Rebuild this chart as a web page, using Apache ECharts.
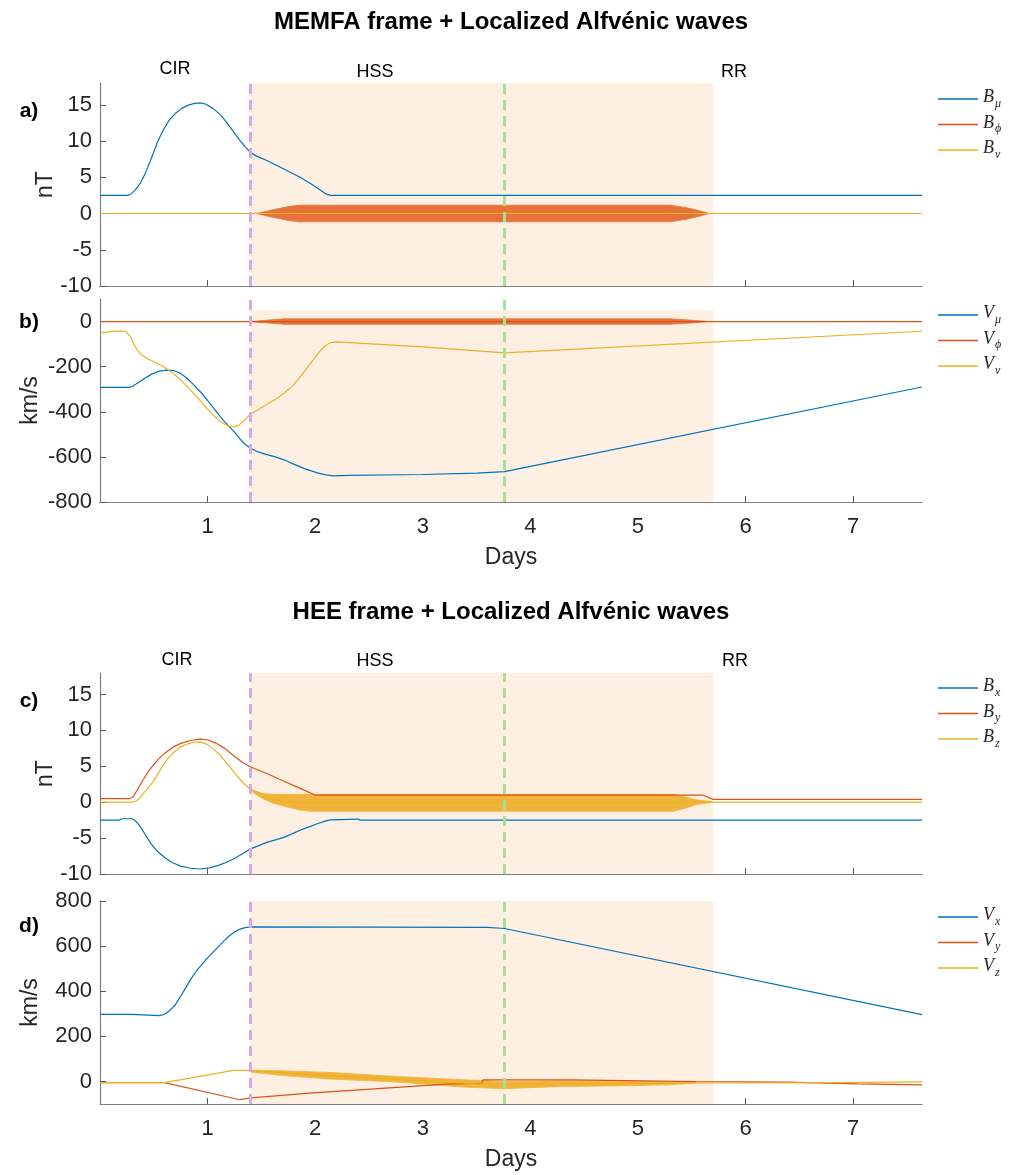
<!DOCTYPE html>
<html>
<head>
<meta charset="utf-8">
<script src="https://cdn.jsdelivr.net/npm/echarts@6/dist/echarts.min.js"></script>
<style>
  html, body { margin: 0; padding: 0; background: #fff; }
  #chart { width: 1017px; height: 1175px; }
</style>
</head>
<body>
<div id="chart"></div>
<script>
// ---- data (days, value) ----
const dayTicks = [1, 2, 3, 4, 5, 6, 7];
const nTTicks = [-10, -5, 0, 5, 10, 15];
const kmsTicksB = [-800, -600, -400, -200, 0];
const kmsTicksD = [0, 200, 400, 600, 800];

// a) MEMFA magnetic field
const bMu = [[0,2.5],[0.26,2.5],[0.29,2.7],[0.33,3.3],[0.375,4.2],[0.42,5.5],[0.47,7.3],[0.53,9.7],[0.58,11.3],[0.64,12.8],[0.7,13.8],[0.76,14.5],[0.82,14.95],[0.88,15.2],[0.93,15.25],[0.98,15.1],[1.05,14.5],[1.12,13.6],[1.18,12.5],[1.24,11.3],[1.3,10.1],[1.35,9.2],[1.4,8.4],[1.45,7.95],[1.55,7.3],[1.7,6.2],[1.86,5.0],[1.96,4.1],[2.05,3.2],[2.1,2.7],[2.14,2.5],[7.64,2.5]];
const bPhi = [[0,0],[7.64,0]];
const bNu = [[0,0],[7.64,0]];
const bPhiWaveX = [1.42, 1.47, 1.6, 1.75, 1.85, 5.3, 5.45, 5.58, 5.66];
const bPhiWaveHi = [0, 0.05, 0.5, 0.95, 1.15, 1.15, 0.8, 0.35, 0];
const bPhiWaveLo = [0, -0.05, -0.5, -0.95, -1.15, -1.15, -0.8, -0.35, 0];

// b) MEMFA velocity
const vMu = [[0,-292],[0.27,-292],[0.3,-288],[0.35,-272],[0.42,-250],[0.48,-233],[0.55,-220],[0.62,-215],[0.68,-217],[0.74,-227],[0.8,-248],[0.86,-275],[0.93,-310],[1.0,-350],[1.07,-393],[1.15,-440],[1.2,-465],[1.25,-490],[1.3,-520],[1.35,-545],[1.4,-562],[1.47,-578],[1.55,-590],[1.63,-600],[1.71,-613],[1.8,-632],[1.9,-652],[2.02,-671],[2.1,-680],[2.17,-684],[2.3,-682],[3.0,-678],[3.5,-672],[3.76,-665],[7.64,-290]];
const vPhi = [[0,0],[7.64,0]];
const vNu = [[0,-50],[0.1,-45],[0.2,-41],[0.24,-45],[0.28,-65],[0.31,-95],[0.34,-122],[0.38,-145],[0.43,-162],[0.5,-178],[0.58,-197],[0.66,-222],[0.73,-250],[0.8,-283],[0.87,-318],[0.93,-350],[1.0,-388],[1.06,-418],[1.12,-445],[1.18,-460],[1.24,-467],[1.29,-460],[1.34,-438],[1.4,-410],[1.48,-388],[1.55,-368],[1.63,-345],[1.71,-318],[1.79,-285],[1.87,-240],[1.95,-190],[2.03,-140],[2.09,-108],[2.14,-94],[2.2,-90],[3.0,-112],[3.76,-139],[7.64,-43]];
const vPhiWaveX = [1.4, 1.5, 1.6, 1.72, 5.3, 5.5, 5.65];
const vPhiWaveHi = [0, 4, 8, 12, 12, 6, 0];
const vPhiWaveLo = [0, -4, -8, -12, -12, -6, 0];

// c) HEE magnetic field
const bX = [[0,-2.5],[0.18,-2.5],[0.2,-2.3],[0.3,-2.3],[0.33,-2.6],[0.37,-3.3],[0.42,-4.5],[0.47,-5.7],[0.53,-6.8],[0.6,-7.7],[0.67,-8.4],[0.75,-8.9],[0.84,-9.2],[0.93,-9.3],[1.02,-9.15],[1.1,-8.8],[1.17,-8.4],[1.24,-7.9],[1.32,-7.2],[1.4,-6.5],[1.55,-5.6],[1.71,-4.9],[1.86,-3.9],[1.95,-3.4],[2.02,-3.0],[2.1,-2.6],[2.14,-2.45],[2.4,-2.35],[2.42,-2.5],[7.64,-2.5]];
const bY = [[0,0.5],[0.28,0.5],[0.31,0.8],[0.35,1.8],[0.4,3.1],[0.46,4.5],[0.53,5.8],[0.6,6.8],[0.67,7.6],[0.75,8.2],[0.84,8.6],[0.93,8.8],[1.0,8.7],[1.08,8.2],[1.16,7.5],[1.24,6.5],[1.32,5.6],[1.4,4.9],[1.55,4.0],[1.7,3.0],[1.85,2.0],[2.0,1.0],[5.6,1.0],[5.7,0.4],[7.64,0.4]];
const bZ = [[0,0],[0.3,0],[0.34,0.2],[0.375,0.7],[0.43,1.7],[0.5,3.0],[0.56,4.5],[0.62,5.9],[0.68,6.9],[0.74,7.6],[0.81,8.1],[0.87,8.35],[0.93,8.4],[0.99,8.1],[1.05,7.5],[1.12,6.5],[1.18,5.4],[1.24,4.3],[1.3,3.2],[1.35,2.4],[1.4,1.8],[1.5,1.2],[1.6,0.5],[1.75,0],[5.7,0],[7.64,0]];
const bZWaveX = [1.42, 1.5, 1.61, 1.75, 1.86, 1.95, 5.33, 5.45, 5.55, 5.68];
const bZWaveHi = [1.6, 1.2, 1.1, 1.1, 1.1, 1.1, 1.1, 0.7, 0.3, 0.1];
const bZWaveLo = [1.4, 0.6, -0.15, -0.7, -1.1, -1.25, -1.25, -0.8, -0.3, -0.05];

// d) HEE velocity
const vX = [[0,297],[0.3,297],[0.31,292],[0.55,292],[0.6,298],[0.65,315],[0.7,340],[0.75,378],[0.8,418],[0.85,458],[0.9,492],[0.95,520],[1.0,548],[1.05,572],[1.1,598],[1.15,622],[1.2,645],[1.25,663],[1.3,675],[1.35,682],[1.4,685],[2.5,684],[3.6,683],[3.76,678],[7.64,296]];
const vY = [[0,-5],[0.6,-5],[1.3,-81],[1.4,-73],[1.98,-51],[2.76,-26],[3.22,-12],[3.55,-8],[3.56,7],[4.37,7],[4.38,3],[5.54,-1],[6.38,-3],[6.39,-11],[7.04,-11],[7.05,-15],[7.64,-15]];
const vZ = [[0,-5],[0.6,-5],[1.24,49],[1.4,49],[1.5,45],[2.14,25],[2.76,9],[3.38,-8],[3.75,-16],[4.3,-10],[4.92,-9],[5.33,-9],[5.54,-7],[6.0,-7],[6.01,-5],[6.87,-5],[6.88,-2],[7.64,-2]];
const vZWaveX = [1.4, 1.7, 2.14, 2.76, 3.38, 3.75, 4.3, 4.92, 5.33, 5.54];
const vZWaveHi = [50, 47, 40, 22, 7.5, 0, 3, 0, -4, -7];
const vZWaveLo = [42, 26, 10.6, -3, -25, -32, -22, -19, -14, -7];

// region boundaries (days)
const cirEnd = 1.4, hssMid = 3.76, hssEnd = 5.7;

const BLUE = '#0072BD', RED = '#D95319', YEL = '#EDB120';
const BAND_RED = '#E6733A', BAND_YEL = '#F0B43C';
const SHADE = '#FDEFE2';
const FONT = 'Liberation Sans, Arial, sans-serif';
const TXT = '#262626';

const chart = echarts.init(document.getElementById('chart'));

function line(name, data, color, idx) {
    return {
        name: name, type: 'line', data: data, xAxisIndex: idx, yAxisIndex: idx,
        symbol: 'none', animation: false,
        lineStyle: {color: color, width: 1.2},
        itemStyle: {color: color}
    };
}

// wave packet: filled band between lower and upper envelope, one quad per segment
function band(xs, hi, lo, color, idx) {
    const segs = xs.slice(1).map((x, i) => [xs[i], lo[i], hi[i], x, lo[i + 1], hi[i + 1]]);
    return {
        type: 'custom', xAxisIndex: idx, yAxisIndex: idx, silent: true, animation: false,
        data: segs,
        encode: {x: [0, 3], y: [1, 2, 4, 5]},
        renderItem: function (params, api) {
            const a = api.coord([api.value(0), api.value(1)]);
            const b = api.coord([api.value(3), api.value(4)]);
            const c = api.coord([api.value(3), api.value(5)]);
            const d = api.coord([api.value(0), api.value(2)]);
            return {
                type: 'polygon',
                shape: {points: [a, b, c, d]},
                style: {fill: color, stroke: color, lineWidth: 0.8}
            };
        }
    };
}

// invisible carrier for the dashed region boundaries, drawn last in each panel
function vlines(idx) {
    return {
        type: 'line', xAxisIndex: idx, yAxisIndex: idx, data: [], symbol: 'none',
        animation: false,
        markLine: {
            silent: true, symbol: 'none', label: {show: false}, animation: false,
            data: [
                {xAxis: cirEnd, lineStyle: {color: '#D7A8EC', width: 3, type: [10, 6]}},
                {xAxis: hssMid, lineStyle: {color: '#A8DE9C', width: 3, type: [10, 6]}}
            ]
        }
    };
}

function shade(s, yTop, yBottom) {
    const a = {xAxis: cirEnd}, b = {xAxis: hssEnd};
    if (yTop !== undefined) { a.yAxis = yTop; b.yAxis = yBottom; }
    s.markArea = {silent: true, itemStyle: {color: SHADE}, data: [[a, b]]};
    return s;
}

const grids = [
    {left: 100, top: 83, width: 822, height: 203},
    {left: 100, top: 299, width: 822, height: 203},
    {left: 100, top: 673, width: 822, height: 201},
    {left: 100, top: 901, width: 822, height: 203}
];

function xAxis(idx, labels) {
    return {
        type: 'value', gridIndex: idx, min: 0, max: 7.64,
        name: labels ? 'Days' : '', nameLocation: 'middle', nameGap: 44, nameMoveOverlap: false,
        nameTextStyle: {fontFamily: FONT, fontSize: 23, color: TXT},
        axisLine: {show: true, onZero: false, lineStyle: {color: '#808080', width: 1.2}},
        axisTick: {show: true, inside: true, length: 6, customValues: dayTicks, lineStyle: {color: '#555'}},
        axisLabel: {show: labels, customValues: dayTicks, margin: 14, fontFamily: FONT, fontSize: 22, color: TXT},
        splitLine: {show: false}
    };
}

function yAxis(idx, min, max, ticks, name, gap) {
    return {
        type: 'value', gridIndex: idx, min: min, max: max,
        name: name, nameLocation: 'middle', nameGap: gap, nameRotate: 90, nameMoveOverlap: false,
        nameTextStyle: {fontFamily: FONT, fontSize: 23, color: TXT},
        axisLine: {show: true, lineStyle: {color: '#808080', width: 1.2}},
        axisTick: {show: true, inside: true, length: 6, customValues: ticks, lineStyle: {color: '#555'}},
        axisLabel: {customValues: ticks, margin: 8, fontFamily: FONT, fontSize: 22, color: TXT},
        splitLine: {show: false}
    };
}

const legendLabels = {
    'B_mu': '{i|B}{s|μ}', 'B_phi': '{i|B}{s|ϕ}', 'B_nu': '{i|B}{s|ν}',
    'V_mu': '{i|V}{s|μ}', 'V_phi': '{i|V}{s|ϕ}', 'V_nu': '{i|V}{s|ν}',
    'B_x': '{i|B}{s|x}', 'B_y': '{i|B}{s|y}', 'B_z': '{i|B}{s|z}',
    'V_x': '{i|V}{s|x}', 'V_y': '{i|V}{s|y}', 'V_z': '{i|V}{s|z}'
};

function legend(names, top) {
    return {
        data: names, orient: 'vertical', left: 938, top: top, padding: 0,
        icon: 'rect', itemWidth: 40, itemHeight: 1.6, itemGap: 4.5, selectedMode: false,
        formatter: n => legendLabels[n],
        textStyle: {
            rich: {
                i: {fontFamily: 'Liberation Serif, DejaVu Serif, serif', fontStyle: 'italic', fontSize: 18, color: TXT, verticalAlign: 'top', lineHeight: 18},
                s: {fontFamily: 'Liberation Serif, DejaVu Serif, serif', fontStyle: 'italic', fontSize: 12, color: TXT, verticalAlign: 'top', padding: [9, 0, 0, 1]}
            }
        }
    };
}

function label(text, x, y, size, bold) {
    return {
        type: 'text', x: x, y: y, silent: true,
        style: {text: text, fill: '#000', font: (bold ? 'bold ' : '') + size + 'px ' + FONT, align: 'center', verticalAlign: 'middle'}
    };
}

const series = [
    // a)
    shade(line('B_mu', bMu, BLUE, 0)),
    line('B_phi', bPhi, RED, 0),
    band(bPhiWaveX, bPhiWaveHi, bPhiWaveLo, BAND_RED, 0),
    line('B_nu', bNu, YEL, 0),
    vlines(0),
    // b)
    shade(line('V_mu', vMu, BLUE, 1), 50, -800),
    line('V_phi', vPhi, RED, 1),
    band(vPhiWaveX, vPhiWaveHi, vPhiWaveLo, BAND_RED, 1),
    line('V_nu', vNu, YEL, 1),
    vlines(1),
    // c)
    shade(line('B_x', bX, BLUE, 2)),
    line('B_y', bY, RED, 2),
    line('B_z', bZ, YEL, 2),
    band(bZWaveX, bZWaveHi, bZWaveLo, BAND_YEL, 2),
    vlines(2),
    // d)
    shade(line('V_x', vX, BLUE, 3)),
    line('V_y', vY, RED, 3),
    line('V_z', vZ, YEL, 3),
    band(vZWaveX, vZWaveHi, vZWaveLo, BAND_YEL, 3),
    vlines(3)
];

const option = {
    backgroundColor: '#fff',
    animation: false,
    grid: grids,
    xAxis: [xAxis(0, false), xAxis(1, true), xAxis(2, false), xAxis(3, true)],
    yAxis: [
        yAxis(0, -10, 18, nTTicks, 'nT', 43),
        yAxis(1, -800, 100, kmsTicksB, 'km/s', 58),
        yAxis(2, -10, 18, nTTicks, 'nT', 43),
        yAxis(3, -100, 800, kmsTicksD, 'km/s', 58)
    ],
    legend: [
        legend(['B_mu', 'B_phi', 'B_nu'], 88.5),
        legend(['V_mu', 'V_phi', 'V_nu'], 304.5),
        legend(['B_x', 'B_y', 'B_z'], 677.5),
        legend(['V_x', 'V_y', 'V_z'], 906.5)
    ],
    graphic: [
        label('MEMFA frame + Localized Alfvénic waves', 511, 22, 24, true),
        label('HEE frame + Localized Alfvénic waves', 511, 612, 24, true),
        label('CIR', 175, 69, 18), label('HSS', 375, 72, 18), label('RR', 734, 72, 18),
        label('CIR', 177, 660, 18), label('HSS', 375, 661, 18), label('RR', 735, 661, 18),
        label('a)', 29, 111, 21, true), label('b)', 29, 322, 21, true),
        label('c)', 29, 701, 21, true), label('d)', 29, 926, 21, true)
    ],
    series: series
};

chart.setOption(option);

window.addEventListener('resize', function () {
    chart.resize();
});
</script>
</body>
</html>
